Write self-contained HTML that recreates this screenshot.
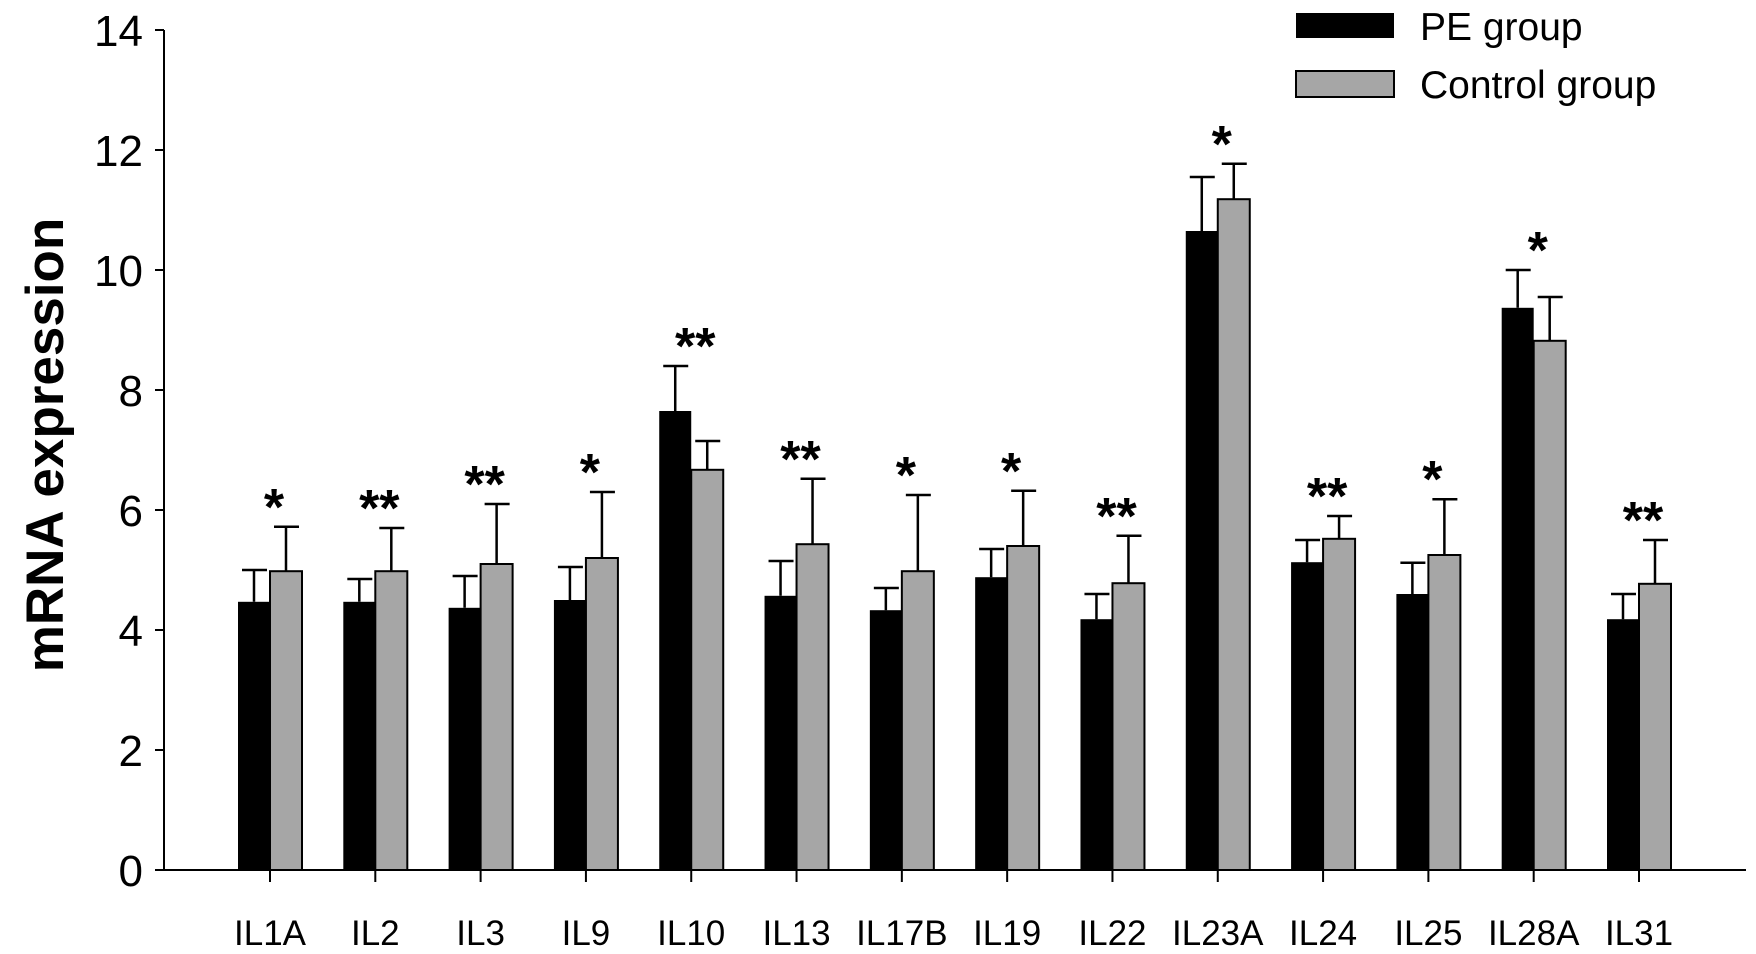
<!DOCTYPE html>
<html><head><meta charset="utf-8"><style>
html,body{margin:0;padding:0;background:#fff;}
svg{display:block;font-family:"Liberation Sans",sans-serif;}
</style></head><body>
<svg id="chart" width="1756" height="954" viewBox="0 0 1756 954">
<g id="axes"></g><g id="bars"></g>
<text transform="translate(63,445) rotate(-90)" text-anchor="middle" font-size="53" font-weight="bold">mRNA expression</text>
<g>
<rect x="1296" y="13" width="98" height="25" fill="#000"/>
<text x="1420" y="40" font-size="39">PE group</text>
<rect x="1296" y="71" width="98" height="26" fill="#a6a6a6" stroke="#000" stroke-width="2"/>
<text x="1420" y="98" font-size="39">Control group</text>
</g>
</svg>
<script>
const categories=["IL1A","IL2","IL3","IL9","IL10","IL13","IL17B","IL19","IL22","IL23A","IL24","IL25","IL28A","IL31"];
const peValues=[4.47,4.47,4.37,4.5,7.65,4.57,4.33,4.88,4.18,10.65,5.13,4.6,9.37,4.18];
const peErrTop=[5.0,4.85,4.9,5.05,8.4,5.15,4.7,5.35,4.6,11.55,5.5,5.12,10.0,4.6];
const ctrlValues=[4.98,4.98,5.1,5.2,6.67,5.43,4.98,5.4,4.78,11.18,5.52,5.25,8.82,4.77];
const ctrlErrTop=[5.72,5.7,6.1,6.3,7.15,6.52,6.25,6.32,5.57,11.77,5.9,6.18,9.55,5.5];
const signif=["*","**","**","*","**","**","*","*","**","*","**","*","*","**"];
const yTicks=[0,2,4,6,8,10,12,14];
const NS="http://www.w3.org/2000/svg";
const y0=870,yTop=30,yMax=14;
function yScale(v){return y0-(v/yMax)*(y0-yTop);}
function xScale(i){return 270+i*(1639-270)/(categories.length-1);}
function mk(tag,attrs,parent){const e=document.createElementNS(NS,tag);for(const k in attrs)e.setAttribute(k,attrs[k]);parent.appendChild(e);return e;}
const axes=document.getElementById('axes'),bars=document.getElementById('bars');
let l=mk('line',{x1:164,y1:yTop,x2:164,y2:y0,stroke:'#000','stroke-width':2},axes);


l=mk('line',{x1:163,y1:y0,x2:1746,y2:y0,stroke:'#000','stroke-width':2},axes);


yTicks.forEach(t=>{
 const y=yScale(t);
 const tk=mk('line',{x1:155,y1:y,x2:164,y2:y,stroke:'#000','stroke-width':2},axes);
 
 
 const tx=mk('text',{x:143,y:y+16,'text-anchor':'end','font-size':44},axes);
 tx.textContent=t;
 
 
});
categories.forEach((c,i)=>{
 const x=xScale(i);
 const tk=mk('line',{x1:x,y1:y0,x2:x,y2:y0+12,stroke:'#000','stroke-width':2},axes);
 
 
 const tx=mk('text',{x:x,y:945,'text-anchor':'middle','font-size':35},axes);
 tx.textContent=c;
 
 
 [[x-16,peErrTop[i],peValues[i]],[x+16,ctrlErrTop[i],ctrlValues[i]]].forEach(([cx,e,v])=>{
  const g=mk('path',{d:`M${cx},${yScale(v)}V${yScale(e)}M${cx-12},${yScale(e)}H${cx+13}`,stroke:'#000','stroke-width':2.5,fill:'none'},bars);
  
  
 });
 const b1=mk('rect',{x:x-32,y:yScale(peValues[i]),width:32,height:y0-yScale(peValues[i]),fill:'#000'},bars);
 
 
 const b2=mk('rect',{x:x,y:yScale(ctrlValues[i]),width:32,height:y0-yScale(ctrlValues[i]),fill:'#a6a6a6',stroke:'#000','stroke-width':2},bars);
 
 
 const top=Math.min(yScale(peErrTop[i]),yScale(ctrlErrTop[i]));
 const s=mk('text',{x:x+4,y:top-2,'text-anchor':'middle','font-size':52,'font-weight':'bold'},bars);
 s.textContent=signif[i];
 
 
});
</script>
</body></html>
